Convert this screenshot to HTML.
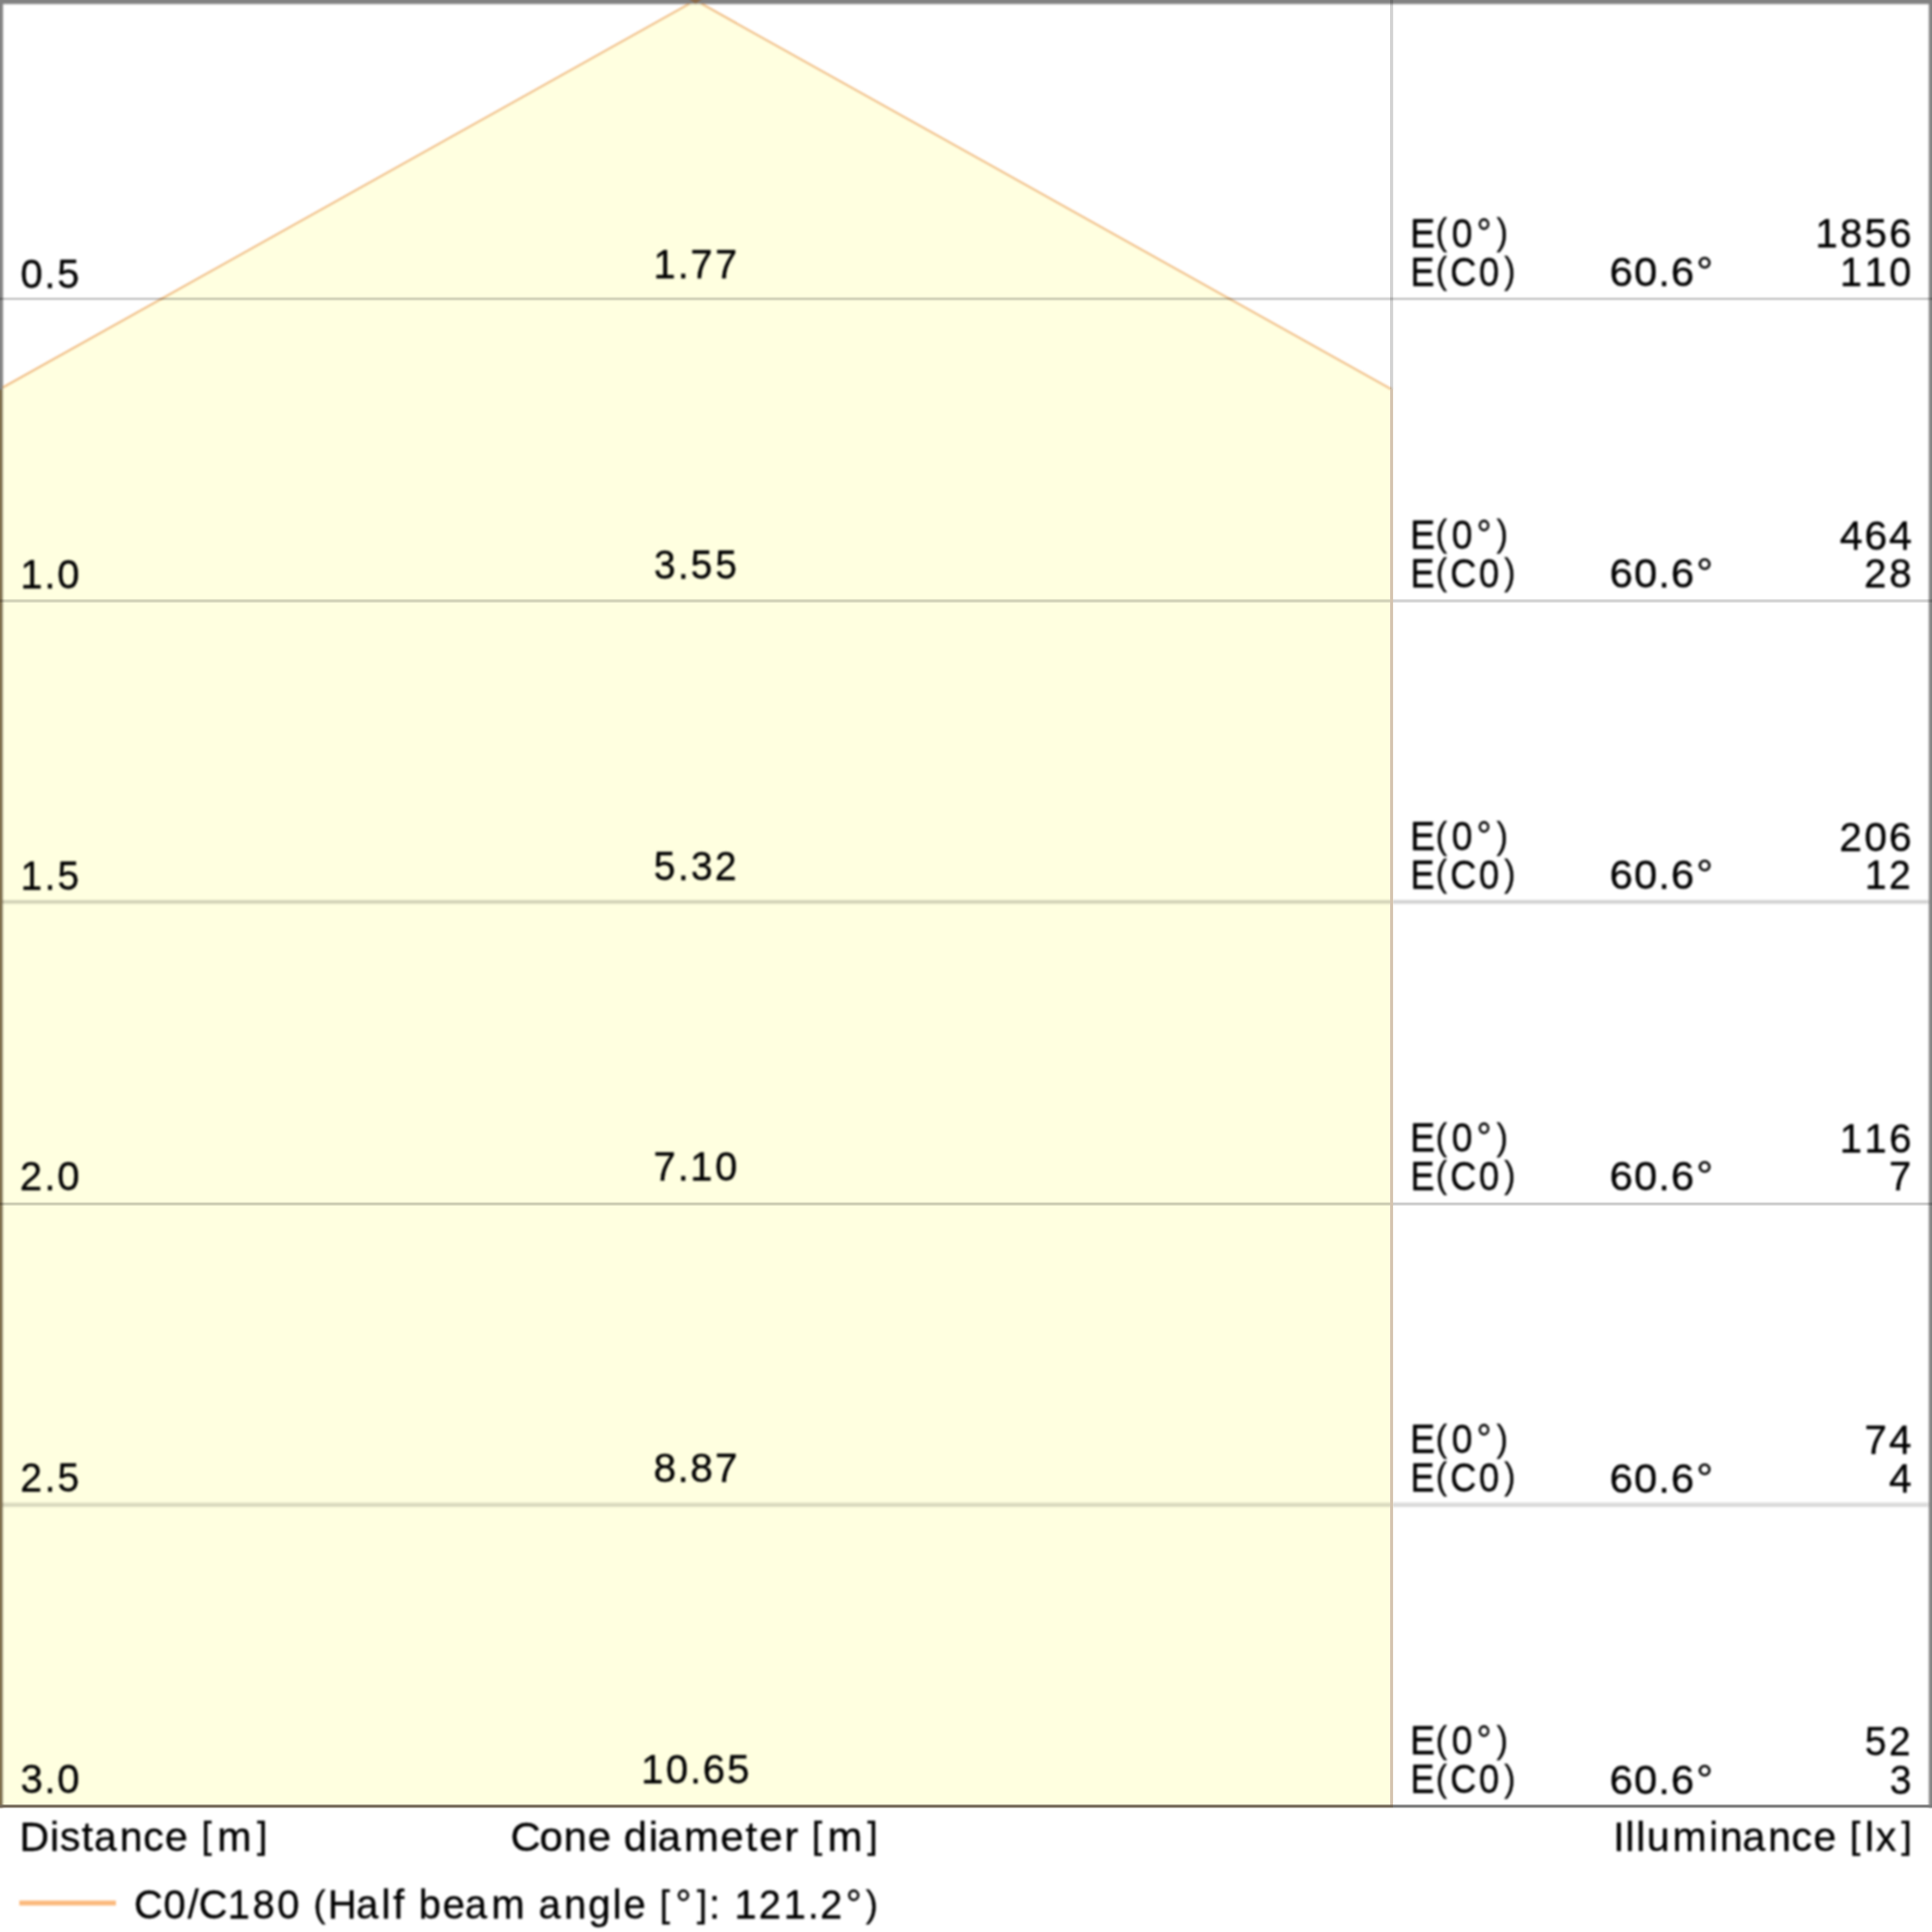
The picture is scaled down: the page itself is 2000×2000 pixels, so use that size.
<!DOCTYPE html>
<html><head><meta charset="utf-8"><title>Cone diagram</title>
<style>
html,body{margin:0;padding:0;background:#fff;}
body{width:2000px;height:2000px;overflow:hidden;}
svg{display:block;}
text{font-family:"Liberation Sans",sans-serif;font-size:42.0px;fill:#000;stroke:#000;stroke-width:0.35px;}
.p{font-size:38.35px;}
</style></head><body>
<svg width="2000" height="2000" viewBox="0 0 2000 2000">
<defs><filter id="b" x="-50" y="-50" width="2100" height="2100" filterUnits="userSpaceOnUse"><feGaussianBlur stdDeviation="1"/></filter>
<filter id="tb" x="-50" y="-50" width="2100" height="2100" filterUnits="userSpaceOnUse"><feGaussianBlur stdDeviation="1"/></filter></defs>
<rect x="-50" y="-50" width="2100" height="2100" fill="#ffffff"/>
<g filter="url(#b)">
<polygon points="720,0.5 1440.5,403.1 1440.5,1870 -20,1870 -20,414" fill="#ffffe0"/>
<line x1="-20" y1="933.6" x2="2020" y2="933.6" stroke="#000" stroke-opacity="0.185" stroke-width="3.6"/>
<line x1="-20" y1="1557.8" x2="2020" y2="1557.8" stroke="#000" stroke-opacity="0.145" stroke-width="4.4"/>
<polyline points="-20,414 720,0.5 1440.5,403.1" fill="none" stroke="#f0b878" stroke-width="2"/>
<rect x="-20" y="-20" width="2040" height="24.2" fill="#828282"/>
<polygon points="712,-2 728,-2 720,4.5" fill="#8a6a48"/>
<rect x="-20" y="-20" width="23.1" height="423" fill="#828282"/>
<rect x="-20" y="403" width="23.1" height="1468" fill="#80704e"/>
<rect x="1996.7" y="-20" width="23.3" height="1891" fill="#828282"/>
<line x1="20" y1="1970" x2="120" y2="1970" stroke="#fbb87a" stroke-width="5"/>
</g>
<line x1="-20" y1="309.4" x2="2020" y2="309.4" stroke="#000" stroke-opacity="0.065" stroke-width="1.4"/>
<line x1="-20" y1="309.4" x2="2020" y2="309.4" stroke="#000" stroke-opacity="0.065" stroke-width="2.8"/>
<line x1="-20" y1="309.4" x2="2020" y2="309.4" stroke="#000" stroke-opacity="0.065" stroke-width="4.2"/>
<line x1="-20" y1="622.0" x2="2020" y2="622.0" stroke="#000" stroke-opacity="0.068" stroke-width="1.6"/>
<line x1="-20" y1="622.0" x2="2020" y2="622.0" stroke="#000" stroke-opacity="0.068" stroke-width="2.8"/>
<line x1="-20" y1="622.0" x2="2020" y2="622.0" stroke="#000" stroke-opacity="0.068" stroke-width="4.0"/>
<line x1="-20" y1="1246.2" x2="2020" y2="1246.2" stroke="#000" stroke-opacity="0.2" stroke-width="3.0"/>
<line x1="1440.6" y1="0" x2="1440.6" y2="403" stroke="#000" stroke-opacity="0.175" stroke-width="3.2"/>
<line x1="1440.6" y1="403" x2="1440.6" y2="1870" stroke="#d4c3ae" stroke-width="3.0"/>
<rect x="0" y="1868.25" width="1442" height="3.1" fill="#74695a"/>
<rect x="1442" y="1868.25" width="558" height="3.1" fill="#7c7c7c"/>
<g filter="url(#tb)">
<text transform="scale(0.9808,1)" x="21.68 46.97 60.43" y="297.60">0.5</text>
<text transform="scale(0.9783,1)" x="691.57 717.11 730.70 756.72" y="287.60">1.77</text>
<text transform="scale(0.9241,1)" x="1579.55 1608.42 1626.28 1654.17 1676.39" y="256.00" dy="0 -2.6 2.6 0 -2.6">E<tspan class="p">(</tspan>0°<tspan class="p">)</tspan></text>
<text transform="scale(0.8955,1)" x="1630.49 1660.05 1676.30 1709.80 1738.98" y="295.70" dy="0 -2.6 2.6 0 -2.6">E<tspan class="p">(</tspan>C0<tspan class="p">)</tspan></text>
<text transform="scale(1.0312,1)" x="1615.76 1640.44 1664.78 1677.45 1702.79" y="296.20">60.6°</text>
<text transform="scale(0.9904,1)" x="1897.41 1923.31 1948.85 1974.71" y="256.50">1856</text>
<text transform="scale(0.9749,1)" x="1953.76 1979.86 2006.17" y="296.20">110</text>
<text transform="scale(0.9871,1)" x="21.25 46.63 60.13" y="609.20">1.0</text>
<text transform="scale(0.9579,1)" x="706.80 732.51 746.43 773.00" y="599.20">3.55</text>
<text transform="scale(0.9241,1)" x="1579.55 1608.42 1626.28 1654.17 1676.39" y="568.10" dy="0 -2.6 2.6 0 -2.6">E<tspan class="p">(</tspan>0°<tspan class="p">)</tspan></text>
<text transform="scale(0.8955,1)" x="1630.49 1660.05 1676.30 1709.80 1738.98" y="607.80" dy="0 -2.6 2.6 0 -2.6">E<tspan class="p">(</tspan>C0<tspan class="p">)</tspan></text>
<text transform="scale(1.0312,1)" x="1615.76 1640.44 1664.78 1677.45 1702.79" y="608.30">60.6°</text>
<text transform="scale(1.0151,1)" x="1876.27 1901.35 1926.42" y="568.60">464</text>
<text transform="scale(0.9916,1)" x="1946.05 1972.25" y="608.30">28</text>
<text transform="scale(0.9603,1)" x="22.19 48.09 61.97" y="920.80">1.5</text>
<text transform="scale(0.9642,1)" x="701.92 727.70 741.71 767.51" y="910.80">5.32</text>
<text transform="scale(0.9241,1)" x="1579.55 1608.42 1626.28 1654.17 1676.39" y="880.20" dy="0 -2.6 2.6 0 -2.6">E<tspan class="p">(</tspan>0°<tspan class="p">)</tspan></text>
<text transform="scale(0.8955,1)" x="1630.49 1660.05 1676.30 1709.80 1738.98" y="919.90" dy="0 -2.6 2.6 0 -2.6">E<tspan class="p">(</tspan>C0<tspan class="p">)</tspan></text>
<text transform="scale(1.0312,1)" x="1615.76 1640.44 1664.78 1677.45 1702.79" y="920.40">60.6°</text>
<text transform="scale(1.0037,1)" x="1897.07 1922.95 1948.30" y="880.70">206</text>
<text transform="scale(0.9634,1)" x="2003.72 2029.79" y="920.40">12</text>
<text transform="scale(0.9903,1)" x="20.82 46.46 59.89" y="1232.40">2.0</text>
<text transform="scale(0.9855,1)" x="686.53 711.81 725.13 751.16" y="1222.40">7.10</text>
<text transform="scale(0.9241,1)" x="1579.55 1608.42 1626.28 1654.17 1676.39" y="1192.30" dy="0 -2.6 2.6 0 -2.6">E<tspan class="p">(</tspan>0°<tspan class="p">)</tspan></text>
<text transform="scale(0.8955,1)" x="1630.49 1660.05 1676.30 1709.80 1738.98" y="1232.00" dy="0 -2.6 2.6 0 -2.6">E<tspan class="p">(</tspan>C0<tspan class="p">)</tspan></text>
<text transform="scale(1.0312,1)" x="1615.76 1640.44 1664.78 1677.45 1702.79" y="1232.50">60.6°</text>
<text transform="scale(0.9868,1)" x="1930.10 1955.89 1981.89" y="1192.80">116</text>
<text transform="scale(0.9820,1)" x="1991.47" y="1232.50">7</text>
<text transform="scale(0.9642,1)" x="21.70 47.88 61.67" y="1544.00">2.5</text>
<text transform="scale(1.0058,1)" x="672.53 697.33 710.47 735.69" y="1534.00">8.87</text>
<text transform="scale(0.9241,1)" x="1579.55 1608.42 1626.28 1654.17 1676.39" y="1504.40" dy="0 -2.6 2.6 0 -2.6">E<tspan class="p">(</tspan>0°<tspan class="p">)</tspan></text>
<text transform="scale(0.8955,1)" x="1630.49 1660.05 1676.30 1709.80 1738.98" y="1544.10" dy="0 -2.6 2.6 0 -2.6">E<tspan class="p">(</tspan>C0<tspan class="p">)</tspan></text>
<text transform="scale(1.0312,1)" x="1615.76 1640.44 1664.78 1677.45 1702.79" y="1544.60">60.6°</text>
<text transform="scale(0.9936,1)" x="1942.53 1968.21" y="1504.90">74</text>
<text transform="scale(1.0041,1)" x="1947.63" y="1544.60">4</text>
<text transform="scale(0.9883,1)" x="21.48 46.56 60.04" y="1855.60">3.0</text>
<text transform="scale(0.9898,1)" x="670.55 696.47 721.58 735.03 760.58" y="1845.60">10.65</text>
<text transform="scale(0.9241,1)" x="1579.55 1608.42 1626.28 1654.17 1676.39" y="1816.50" dy="0 -2.6 2.6 0 -2.6">E<tspan class="p">(</tspan>0°<tspan class="p">)</tspan></text>
<text transform="scale(0.8955,1)" x="1630.49 1660.05 1676.30 1709.80 1738.98" y="1856.20" dy="0 -2.6 2.6 0 -2.6">E<tspan class="p">(</tspan>C0<tspan class="p">)</tspan></text>
<text transform="scale(1.0312,1)" x="1615.76 1640.44 1664.78 1677.45 1702.79" y="1856.70">60.6°</text>
<text transform="scale(0.9574,1)" x="2016.41 2042.61" y="1817.00">52</text>
<text transform="scale(0.9642,1)" x="2028.79" y="1856.70">3</text>
<text transform="scale(1.0102,1)" x="19.93 51.14 61.38 83.74 96.39 122.66 146.71 169.15 193.39 206.47 222.86 263.37" y="1916.00" dy="0 0 0 0 0 0 0 0 0 -2.6 2.6 -2.6">Distance <tspan class="p">[</tspan>m<tspan class="p">]</tspan></text>
<text transform="scale(1.0319,1)" x="512.11 541.23 565.45 589.65 613.50 625.91 650.85 659.59 686.12 722.72 747.90 761.77 786.98 801.56 814.35 830.17 870.11" y="1916.00" dy="0 0 0 0 0 0 0 0 0 0 0 0 0 0 -2.6 2.6 -2.6">Cone diameter <tspan class="p">[</tspan>m<tspan class="p">]</tspan></text>
<text transform="scale(1.0137,1)" x="1647.38 1659.85 1670.82 1681.70 1707.80 1745.24 1756.28 1779.29 1805.47 1829.44 1851.80 1875.97 1889.01 1904.29 1915.53 1941.60" y="1916.00" dy="0 0 0 0 0 0 0 0 0 0 0 0 -2.6 2.6 0 -2.6">Illuminance <tspan class="p">[</tspan>lx<tspan class="p">]</tspan></text>
<text transform="scale(0.9816,1)" x="141.45 172.35 198.03 209.56 240.25 266.38 292.30 317.60 330.51 345.95 375.73 402.41 414.60 427.73 441.56 466.84 490.26 518.41 556.28 567.88 594.88 620.39 646.25 657.51 682.29 695.77 712.29 734.94 747.81 761.14 774.51 800.11 826.37 851.85 864.91 891.90 913.00" y="1986.30" dy="0 0 0 0 0 0 0 0 -2.6 2.6 0 0 0 0 0 0 0 0 0 0 0 0 0 0 0 -2.6 2.6 -2.6 2.6 0 0 0 0 0 0 0 -2.6">C0/C180 <tspan class="p">(</tspan>Half beam angle <tspan class="p">[</tspan>°<tspan class="p">]</tspan>: 121.2°<tspan class="p">)</tspan></text>
</g>
</svg>
</body></html>
